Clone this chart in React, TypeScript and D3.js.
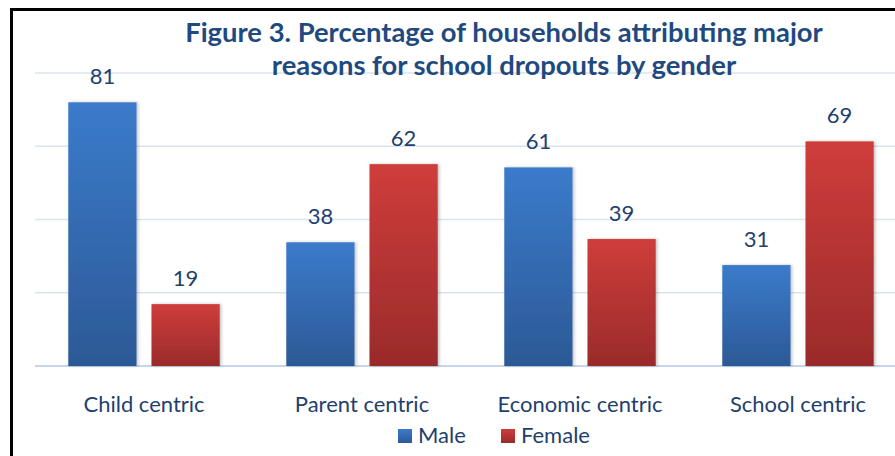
import React from 'react';
import * as d3 from 'd3';

const categories = ['Child centric', 'Parent centric', 'Economic centric', 'School centric'];
const series = ['Male', 'Female'];
const maleValues = [81, 38, 61, 31];
const femaleValues = [19, 62, 39, 69];
const gridTicks = [0, 22.5, 45, 67.5, 90];
const titleLines = [
  'Figure 3. Percentage of households attributing major',
  'reasons for school dropouts by gender',
];

const W = 895;
const H = 456;
const FONT = 'Lato, "Open Sans", sans-serif';
const TEXT = '#1f3f6e';

const grads: Record<string, [string, string]> = {
  Male: ['#3b7bcb', '#2c5996'],
  Female: ['#cf3d3b', '#9a2b2a'],
};

export default function App() {
  const plot = {left: 35, right: 907, top: 73, bottom: 366};

  const x0 = d3.scaleBand<string>()
      .domain(categories)
      .range([plot.left, plot.right]);
  const x1 = d3.scaleBand<string>()
      .domain(series)
      .range([0, x0.bandwidth()])
      .paddingInner(0.18)
      .paddingOuter(0.4);
  const y = d3.scaleLinear().domain([0, 90]).range([plot.bottom, plot.top]);

  const rows = categories.map((c, i) => ({c, Male: maleValues[i], Female: femaleValues[i]}));

  return (
    <svg width={W} height={H} style={{position: 'absolute', left: 0, top: 0, background: '#fff'}}
         fontFamily={FONT}>
      <defs>
        {series.map(s => (
          <linearGradient key={s} id={`g-${s}`} x1="0" y1="0" x2="0" y2="1">
            <stop offset="0%" stopColor={grads[s][0]}/>
            <stop offset="100%" stopColor={grads[s][1]}/>
          </linearGradient>
        ))}
        <filter id="shadow" x="-20%" y="-10%" width="140%" height="120%">
          <feDropShadow dx="1.5" dy="0" stdDeviation="1.5" floodColor="#000" floodOpacity="0.25"/>
        </filter>
      </defs>
      <rect x={11.5} y={9.5} width={W + 20} height={H + 20} fill="#fff" stroke="#000" strokeWidth={3}/>

      {gridTicks.map(t => (
        <line key={t} x1={plot.left} x2={W} y1={y(t)} y2={y(t)}
              stroke={t === 0 ? '#c6d5ea' : '#d9e3f1'} strokeWidth={t === 0 ? 2 : 1.5}/>
      ))}

      {rows.map(r => (
        <g key={r.c} transform={`translate(${x0(r.c)},0)`}>
          {series.map(s => {
            const v = (r as any)[s] as number;
            const bx = x1(s)!;
            return (
              <g key={s}>
                <rect x={bx} y={y(v)} width={x1.bandwidth()} height={y(0) - y(v)}
                      fill={`url(#g-${s})`} filter="url(#shadow)"/>
                <text x={bx + x1.bandwidth() / 2} y={y(v) - 18} textAnchor="middle"
                      fontSize={22} fill={TEXT}>{v}</text>
              </g>
            );
          })}
          <text x={x0.bandwidth() / 2} y={412} textAnchor="middle" fontSize={22} fill={TEXT}>{r.c}</text>
        </g>
      ))}

      {titleLines.map((l, i) => (
        <text key={i} x={504} y={42 + i * 33} textAnchor="middle" fontSize={27.4}
              fontWeight="bold" fill="#1f4a80">{l}</text>
      ))}

      {series.map((s, i) => {
        const lx = [398, 501][i];
        return (
          <g key={s}>
            <rect x={lx} y={429} width={14} height={14} fill={`url(#g-${s})`}/>
            <text x={lx + 20} y={443} fontSize={22} fill={TEXT}>{s}</text>
          </g>
        );
      })}
    </svg>
  );
}
